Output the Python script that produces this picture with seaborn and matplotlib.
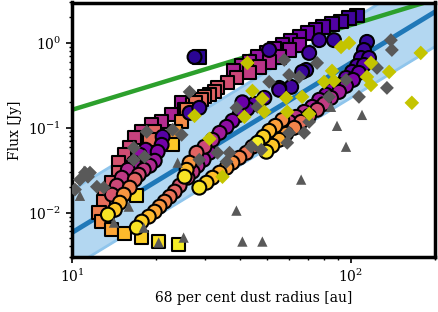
import numpy as np
import pandas as pd
import matplotlib
matplotlib.use("Agg")
import matplotlib.pyplot as plt
import seaborn as sns

# ---------------- data (radius [au], flux [Jy], age fraction) ----------------
sqA_r = [105.1, 98.4, 92.1, 85.5, 79.4, 74.4, 69.6, 65.2, 60.6, 56.7, 53.1, 49.7, 46.2, 43.2, 40.5, 37.9]
sqA_f = [2.13, 1.97, 1.81, 1.67, 1.54, 1.42, 1.31, 1.18, 1.056, 0.947, 0.85, 0.763, 0.684, 0.598, 0.536, 0.469]
sqA_t = [0.08, 0.10, 0.12, 0.14, 0.16, 0.18, 0.20, 0.22, 0.24, 0.26, 0.28, 0.30, 0.32, 0.34, 0.36, 0.38]

sqB_r = [65.2, 60.0, 55.3, 50.9, 46.9, 43.2, 38.84, 36.07, 33.22, 31.1, 29.13, 27.06, 25.33]
sqB_f = [0.947, 0.827, 0.684, 0.598, 0.522, 0.444, 0.388, 0.339, 0.2955, 0.245, 0.214, 0.187, 0.163]
sqB_t = [0.30, 0.33, 0.36, 0.40, 0.43, 0.46, 0.50, 0.53, 0.56, 0.60, 0.62, 0.65, 0.68]

sqC_r = [24.71, 22.76, 20.96, 19.31, 17.78, 16.79, 16.1, 15.46, 14.72, 14.72, 13.9, 13.12, 13.0,
         12.49, 12.8, 13.9, 15.46, 17.78, 20.45, 24.11]
sqC_f = [0.197, 0.142, 0.1177, 0.108, 0.0897, 0.0763, 0.0582, 0.0481, 0.0388, 0.0296, 0.02255,
         0.0172, 0.01347, 0.01, 0.00784, 0.0063, 0.00566, 0.00508, 0.00456, 0.0042]
sqC_t = [0.35, 0.38, 0.41, 0.44, 0.46, 0.48, 0.50, 0.52, 0.54, 0.56, 0.58, 0.60, 0.63,
         0.68, 0.74, 0.80, 0.85, 0.90, 0.94, 0.97]

sqD_r = [32.4, 29.85, 27.72, 25.75, 24.71, 23.52, 22.95, 19.79, 19.0, 17.07, 28.6]
sqD_f = [0.265, 0.2317, 0.197, 0.163, 0.1177, 0.0897, 0.063, 0.0897, 0.0722, 0.0158, 0.684]
sqD_t = [0.58, 0.62, 0.65, 0.68, 0.72, 0.78, 0.88, 0.60, 0.63, 0.93, 0.05]

c0_r = [13.9, 14.48, 15.09, 15.85, 16.65, 17.5, 18.37]
c0_f = [0.0163, 0.0208, 0.0258, 0.032, 0.0388, 0.0481, 0.0551]
c0_t = [0.55, 0.50, 0.45, 0.40, 0.35, 0.30, 0.25]

c1_r = [13.45, 14.24, 14.84, 15.33, 16.1, 16.79, 17.35, 18.07, 19.0, 19.79, 20.28, 20.96, 21.13]
c1_f = [0.00947, 0.0108, 0.0131, 0.0163, 0.0197, 0.0245, 0.028, 0.032, 0.0357, 0.0409, 0.0522, 0.063, 0.0784]
c1_t = [0.95, 0.88, 0.82, 0.75, 0.68, 0.60, 0.52, 0.45, 0.40, 0.34, 0.28, 0.22, 0.15]

c2_r = [17.07, 17.78, 18.84, 19.79, 20.6, 21.48, 22.4, 23.33, 24.3, 25.96, 27.06, 28.18, 29.6, 31.1]
c2_f = [0.00666, 0.00784, 0.00897, 0.01027, 0.01177, 0.01347, 0.0154, 0.0177, 0.0208, 0.0258,
        0.0304, 0.0357, 0.042, 0.0508]
c2_t = [0.95, 0.90, 0.85, 0.80, 0.75, 0.70, 0.65, 0.60, 0.55, 0.50, 0.45, 0.40, 0.36, 0.32]

c3_r = [25.33, 25.75, 26.4, 27.94, 29.85, 31.88, 33.8, 35.78, 37.58, 39.8, 42.53, 45.05, 48.91,
        55.3, 61.05, 66.83, 69.07]
c3_f = [0.0265, 0.032, 0.0388, 0.0508, 0.0598, 0.0722, 0.0873, 0.1027, 0.121, 0.142, 0.1675,
        0.1915, 0.2255, 0.28, 0.3035, 0.456, 0.481]
c3_t = [0.95, 0.85, 0.75, 0.60, 0.50, 0.40, 0.35, 0.30, 0.26, 0.22, 0.19, 0.16, 0.13, 0.11, 0.10, 0.08, 0.07]

c4_r = [28.6, 30.35, 31.88, 33.8, 35.78, 37.58, 39.8, 42.17, 44.32, 47.72, 50.12, 53.09, 56.23,
        60.0, 63.6, 67.94, 72.56, 76.9, 81.41, 85.5, 90.6, 95.97, 100.8, 105.1, 108.6, 111.3, 114.1]
c4_f = [0.0197, 0.02255, 0.0258, 0.0296, 0.0338, 0.0388, 0.0444, 0.0508, 0.0598, 0.0722, 0.0827,
        0.0947, 0.1027, 0.1177, 0.1347, 0.1543, 0.1767, 0.214, 0.245, 0.28, 0.32, 0.388, 0.456,
        0.536, 0.666, 0.827, 1.03]
c4_t = [0.95, 0.90, 0.86, 0.82, 0.78, 0.74, 0.70, 0.66, 0.62, 0.58, 0.55, 0.52, 0.49, 0.46, 0.43,
        0.40, 0.36, 0.32, 0.28, 0.25, 0.22, 0.19, 0.16, 0.13, 0.11, 0.09, 0.07]

c5_r = [49.72, 52.23, 55.3, 58.6, 62.6, 66.27, 70.8, 75.6, 80.09, 84.79, 90.6, 95.97, 101.7,
        106.8, 111.3, 116.0, 46.18, 48.5, 50.9, 53.55, 56.7]
c5_f = [0.0522, 0.0614, 0.0722, 0.085, 0.1, 0.1177, 0.1384, 0.163, 0.1915, 0.2255, 0.265, 0.312,
        0.367, 0.444, 0.551, 0.666, 0.0666, 0.0784, 0.0922, 0.1055, 0.124]
c5_t = [0.95, 0.88, 0.82, 0.76, 0.70, 0.64, 0.58, 0.52, 0.46, 0.40, 0.35, 0.30, 0.25, 0.20, 0.15,
        0.12, 0.97, 0.90, 0.84, 0.78, 0.72]

cx_r = [27.49, 70.8, 76.9, 86.9, 50.9, 26.4, 28.6, 55.3, 40.8]
cx_f = [0.684, 0.763, 1.08, 1.08, 0.827, 0.15, 0.172, 0.2955, 0.2]
cx_t = [0.05, 0.10, 0.10, 0.08, 0.08, 0.10, 0.10, 0.10, 0.20]

grey_r = [10.25, 10.68, 11.13, 11.6, 11.41, 12.28, 13.0, 16.65, 16.65, 18.22, 18.53, 22.95, 24.71,
          26.4, 28.6, 33.22, 35.78, 36.7, 38.84, 46.18, 43.96, 47.72, 50.9, 57.64, 60.0, 65.2,
          75.6, 59.08, 60.0, 67.94, 70.8, 83.4, 95.97, 106.8, 123.9, 134.5, 139.0, 140.1]
grey_f = [0.0187, 0.0245, 0.0296, 0.0296, 0.0265, 0.0202, 0.0197, 0.0582, 0.042, 0.0456, 0.0897,
          0.0947, 0.0827, 0.265, 0.042, 0.0508, 0.0398, 0.0508, 0.172, 0.1767, 0.0598, 0.0551,
          0.348, 0.631, 0.42, 0.398, 0.582, 0.0666, 0.0873, 0.0873, 0.1177, 0.2317, 0.367,
          0.2317, 0.508, 0.2955, 1.08, 0.827]

olive_r = [27.49, 31.1, 34.62, 41.49, 42.53, 44.32, 48.11, 48.91, 58.6, 59.08, 66.83, 70.8, 80.09,
           85.5, 86.9, 92.1, 98.4, 114.1, 117.9, 117.9, 137.0, 177.8, 165.2]
olive_f = [0.1384, 0.0743, 0.0265, 0.1347, 0.582, 0.2724, 0.2195, 0.1543, 0.2255, 0.1543, 0.2317,
           0.146, 0.348, 0.469, 0.357, 0.897, 1.0, 0.398, 0.582, 0.32, 0.456, 0.763, 0.197]

tri_r = [11.04, 10.68, 14.13, 15.98, 18.07, 20.45, 25.12, 23.91, 38.84, 40.8, 48.11, 66.27, 89.1,
         95.97, 109.5, 84.79]
tri_f = [0.0312, 0.0158, 0.00763, 0.01177, 0.00666, 0.00444, 0.00508, 0.0388, 0.01056, 0.00456,
         0.00456, 0.0245, 0.1055, 0.0598, 0.142, 0.1767]

# relations
green_norm, green_slope = 0.163, 1.0      # flux at 10 au, power-law index
blue_norm, blue_slope = 0.00582, 2.0
band_lo, band_hi = 10 ** -0.41, 10 ** 0.50

# ---------------- figure ----------------
sns.set_style("ticks")
plt.rcParams["font.family"] = ["DejaVu Serif"]
plt.rcParams["mathtext.fontset"] = "dejavuserif"
plt.rcParams["font.size"] = 10
plt.rcParams["text.color"] = "black"
plt.rcParams["axes.labelcolor"] = "black"
plt.rcParams["xtick.color"] = "black"
plt.rcParams["ytick.color"] = "black"

fig = plt.figure(figsize=(4.39, 3.12), dpi=100)
ax = fig.add_axes([72 / 439, 1 - 257 / 312, (435 - 72) / 439, (257 - 2.5) / 312])

rr = np.logspace(1, np.log10(200), 200)
blue = blue_norm * (rr / 10) ** blue_slope
ax.fill_between(rr, blue * band_lo, blue * band_hi, color="#b3d7f1", zorder=1, lw=0)
ax.plot(rr, blue * band_lo, color="#8fc5ec", lw=2, zorder=1.1)
ax.plot(rr, blue * band_hi, color="#8fc5ec", lw=2, zorder=1.1)
ax.plot(rr, blue, color="#1f78b8", lw=3.5, zorder=1.2)
ax.plot(rr, green_norm * (rr / 10) ** green_slope, color="#2ca02c", lw=3.2, zorder=1.3)

def frame(rs, fs, ts):
    return pd.DataFrame({"r": rs, "f": fs, "t": ts})

squares = pd.concat([frame(sqA_r, sqA_f, sqA_t), frame(sqB_r, sqB_f, sqB_t),
                     frame(sqC_r, sqC_f, sqC_t), frame(sqD_r, sqD_f, sqD_t)]).sort_values("t")
circles = pd.concat([frame(c0_r, c0_f, c0_t), frame(c1_r, c1_f, c1_t), frame(c2_r, c2_f, c2_t),
                     frame(c3_r, c3_f, c3_t), frame(c4_r, c4_f, c4_t), frame(c5_r, c5_f, c5_t),
                     frame(cx_r, cx_f, cx_t)]).sort_values("t")

sns.scatterplot(data=squares, x="r", y="f", hue="t", palette="plasma", hue_norm=(0, 1),
                marker="s", s=90, edgecolor="black", linewidth=1.5, legend=False, ax=ax, zorder=3)
sns.scatterplot(data=circles, x="r", y="f", hue="t", palette="plasma", hue_norm=(0, 1),
                marker="o", s=100, edgecolor="black", linewidth=1.5, legend=False, ax=ax, zorder=4)
sns.scatterplot(x=grey_r, y=grey_f, marker="D", s=50, color="#595959", edgecolor="none",
                legend=False, ax=ax, zorder=5)
sns.scatterplot(x=olive_r, y=olive_f, marker="D", s=55, color="#c4c400", edgecolor="none",
                legend=False, ax=ax, zorder=5)
sns.scatterplot(x=tri_r, y=tri_f, marker="^", s=55, color="#595959", edgecolor="none",
                legend=False, ax=ax, zorder=5)

ax.set_xscale("log")
ax.set_yscale("log")
ax.set_xlim(10, 200)
ax.set_ylim(0.003, 3)
ax.set_xlabel("68 per cent dust radius [au]")
ax.set_ylabel("Flux [Jy]")
for s in ax.spines.values():
    s.set_linewidth(2.5)
    s.set_color("black")
    s.set_visible(True)
ax.tick_params(which="major", direction="out", length=4.5, width=1.2, labelsize=10, color="black")
ax.tick_params(which="minor", direction="out", length=2.5, width=1.0, color="black")

fig.savefig("out.png", dpi=100)
